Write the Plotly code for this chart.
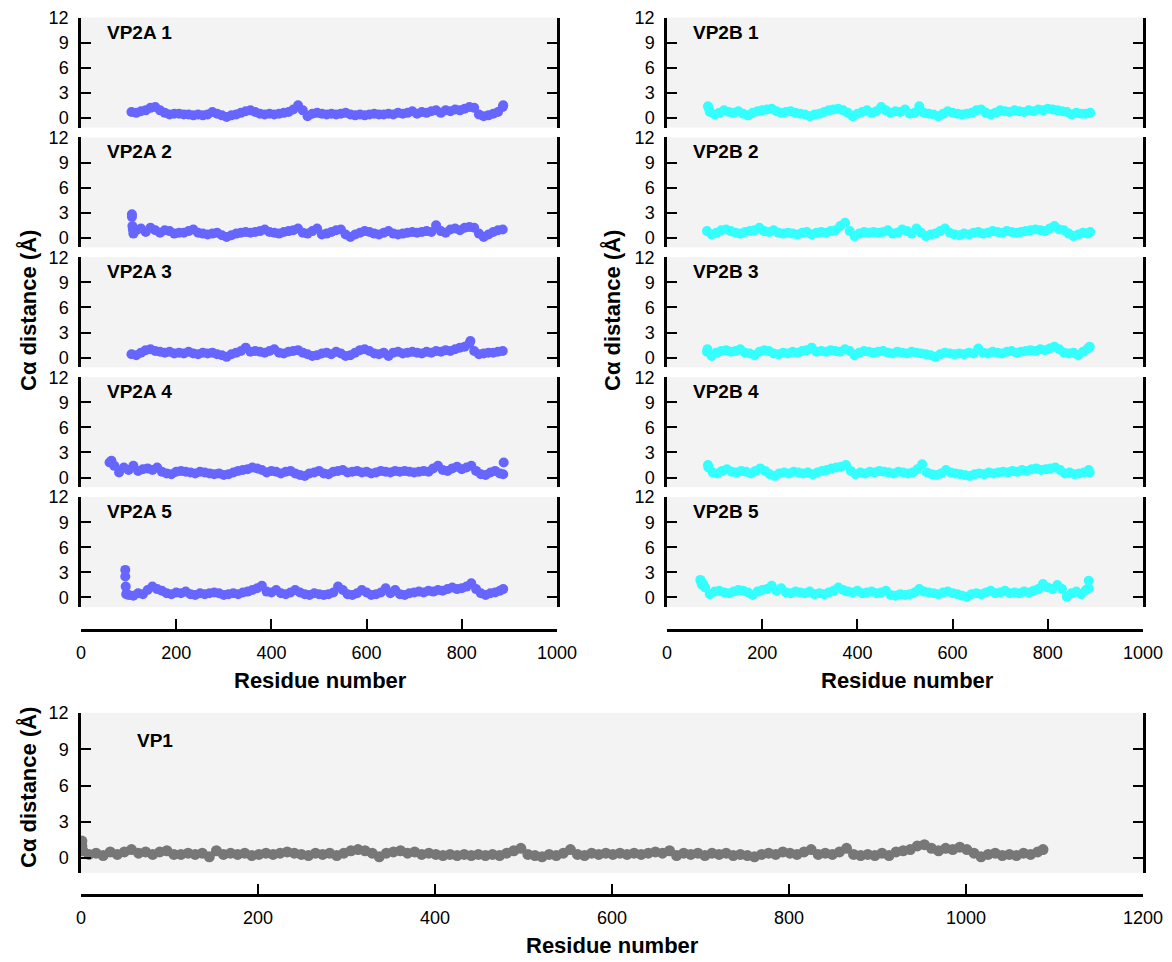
import plotly.graph_objects as go

# ---------------- data ----------------
STEP = 10
# VP2A chains: first residue, values every 10 residues, extra isolated points
vp2a1_start = 106
vp2a1 = [0.7, 0.6, 0.8, 0.9, 1.2, 1.3, 0.9, 0.6, 0.4, 0.5, 0.5, 0.4, 0.4, 0.3, 0.4, 0.3, 0.4, 0.7, 0.5, 0.3,
         0.1, 0.3, 0.4, 0.6, 0.8, 0.9, 0.7, 0.5, 0.4, 0.5, 0.4, 0.5, 0.6, 0.7, 1.0, 1.5, 0.9, 0.2, 0.5, 0.6,
         0.5, 0.4, 0.5, 0.4, 0.5, 0.6, 0.4, 0.3, 0.4, 0.3, 0.4, 0.5, 0.4, 0.4, 0.5, 0.4, 0.6, 0.5, 0.6, 0.8,
         0.5, 0.7, 0.6, 0.8, 0.9, 0.6, 0.9, 0.8, 1.0, 0.9, 1.1, 1.3, 1.2, 0.4, 0.2, 0.3, 0.5, 0.7, 1.3]
vp2a1_extra_x = [887]
vp2a1_extra_y = [1.5]

vp2a2_start = 116
vp2a2 = [0.9, 1.1, 0.7, 1.2, 0.9, 0.6, 0.9, 0.8, 0.5, 0.6, 0.6, 0.8, 1.0, 0.6, 0.5, 0.4, 0.5, 0.6, 0.3, 0.1,
         0.3, 0.5, 0.6, 0.7, 0.6, 0.7, 0.8, 1.0, 0.7, 0.6, 0.5, 0.7, 0.8, 0.9, 1.1, 0.6, 0.5, 0.8, 1.1, 0.4,
         0.5, 0.7, 0.9, 1.0, 0.4, 0.1, 0.4, 0.6, 0.8, 0.7, 0.5, 0.4, 0.6, 0.8, 0.5, 0.4, 0.5, 0.6, 0.7, 0.6,
         0.7, 0.8, 0.7, 1.5, 0.8, 0.6, 1.0, 1.1, 0.9, 1.2, 1.3, 1.2, 0.5, 0.1, 0.4, 0.7, 0.9, 1.0]
vp2a2_extra_x = [107, 107, 108, 109, 110]
vp2a2_extra_y = [2.8, 2.5, 1.4, 1.0, 0.5]

vp2a3_start = 106
vp2a3 = [0.4, 0.3, 0.6, 0.9, 1.0, 0.8, 0.7, 0.6, 0.7, 0.5, 0.6, 0.5, 0.7, 0.5, 0.4, 0.6, 0.5, 0.6, 0.4, 0.3,
         0.1, 0.4, 0.6, 0.8, 1.2, 0.7, 0.8, 0.7, 0.6, 0.8, 1.0, 0.6, 0.5, 0.7, 0.8, 0.9, 0.6, 0.4, 0.2, 0.3,
         0.5, 0.6, 0.4, 0.7, 0.5, 0.2, 0.3, 0.6, 0.9, 1.0, 0.8, 0.5, 0.4, 0.6, 0.2, 0.6, 0.7, 0.5, 0.6, 0.7,
         0.6, 0.5, 0.7, 0.6, 0.8, 0.7, 0.9, 0.8, 1.0, 1.2, 1.3, 1.7, 0.8, 0.4, 0.5, 0.6, 0.6, 0.7, 0.8]
vp2a3_extra_x = [818]
vp2a3_extra_y = [2.0]

vp2a4_start = 60
vp2a4 = [1.8, 1.4, 0.6, 1.2, 0.9, 1.4, 0.8, 1.0, 1.1, 0.9, 1.2, 0.7, 0.5, 0.4, 0.7, 0.8, 0.7, 0.6, 0.5, 0.7,
         0.6, 0.5, 0.4, 0.5, 0.3, 0.4, 0.6, 0.8, 0.9, 1.0, 1.2, 1.1, 0.9, 0.6, 0.8, 0.7, 0.5, 0.7, 0.8, 0.5,
         0.3, 0.2, 0.5, 0.6, 0.8, 0.5, 0.4, 0.7, 0.8, 0.9, 0.6, 0.7, 0.8, 0.6, 0.7, 0.5, 0.6, 0.8, 0.7, 0.6,
         0.8, 0.7, 0.8, 0.7, 0.6, 0.7, 0.8, 0.7, 1.1, 1.4, 0.9, 0.8, 1.1, 1.3, 1.0, 1.2, 1.4, 0.8, 0.4, 0.3,
         0.6, 0.8, 0.5]
vp2a4_extra_x = [64, 888, 887]
vp2a4_extra_y = [2.0, 1.8, 0.4]

vp2a5_start = 100
vp2a5 = [0.3, 0.2, 0.5, 0.4, 0.9, 1.3, 1.0, 0.8, 0.5, 0.4, 0.6, 0.5, 0.7, 0.4, 0.3, 0.5, 0.4, 0.5, 0.6, 0.5,
         0.3, 0.4, 0.5, 0.4, 0.6, 0.7, 0.9, 1.1, 1.4, 0.7, 0.6, 0.9, 0.5, 0.4, 0.6, 0.9, 0.6, 0.4, 0.3, 0.5,
         0.4, 0.3, 0.4, 0.6, 1.3, 0.9, 0.4, 0.3, 0.5, 0.9, 0.6, 0.3, 0.4, 0.6, 1.1, 0.5, 0.9, 0.4, 0.3, 0.5,
         0.6, 0.7, 0.6, 0.8, 0.7, 0.9, 0.8, 1.0, 1.2, 1.0, 1.1, 1.3, 1.7, 1.0, 0.5, 0.3, 0.5, 0.6, 0.8]
vp2a5_extra_x = [93, 93, 94, 95, 887]
vp2a5_extra_y = [3.3, 2.5, 1.3, 0.4, 1.0]

# VP2B chains
vp2b1_start = 90
vp2b1 = [0.7, 0.4, 0.6, 0.9, 0.7, 0.6, 0.8, 0.5, 0.3, 0.6, 0.8, 0.9, 1.0, 1.1, 0.8, 0.6, 0.7, 0.8, 0.6, 0.5,
         0.4, 0.2, 0.4, 0.5, 0.7, 0.9, 1.0, 1.1, 0.9, 0.6, 0.2, 0.5, 0.7, 0.9, 0.6, 0.8, 1.3, 0.9, 0.6, 0.8,
         0.7, 1.0, 0.5, 0.6, 1.4, 0.6, 0.5, 0.4, 0.2, 0.5, 0.8, 0.6, 0.5, 0.4, 0.5, 0.6, 0.9, 1.0, 0.6, 0.4,
         0.6, 0.9, 0.8, 0.7, 0.9, 0.8, 0.7, 0.9, 0.8, 1.0, 0.9, 1.1, 1.0, 0.9, 0.8, 0.7, 0.4, 0.6, 0.5, 0.5]
vp2b1_extra_x = [86, 88, 889]
vp2b1_extra_y = [1.4, 1.1, 0.6]

vp2b2_start = 84
vp2b2 = [0.8, 0.4, 0.6, 0.9, 1.0, 0.8, 0.6, 0.5, 0.7, 0.8, 0.9, 1.2, 0.8, 0.7, 0.9, 0.6, 0.5, 0.6, 0.5, 0.4,
         0.6, 0.7, 0.4, 0.6, 0.7, 0.6, 0.8, 0.9, 1.4, 1.8, 0.8, 0.2, 0.5, 0.7, 0.6, 0.7, 0.6, 0.7, 0.9, 0.5,
         0.6, 1.0, 0.8, 0.5, 1.1, 0.6, 0.2, 0.4, 0.5, 0.8, 1.1, 0.6, 0.4, 0.3, 0.5, 0.4, 0.6, 0.7, 0.5, 0.6,
         0.8, 0.7, 0.6, 0.8, 0.7, 0.6, 0.7, 0.8, 0.9, 1.0, 0.9, 0.8, 1.1, 1.4, 1.0, 0.9, 0.5, 0.2, 0.4, 0.6,
         0.5]
vp2b2_extra_x = [889]
vp2b2_extra_y = [0.7]

vp2b3_start = 84
vp2b3 = [0.7, 0.2, 0.6, 0.8, 0.9, 0.7, 0.8, 1.0, 0.6, 0.5, 0.3, 0.7, 0.9, 0.8, 0.5, 0.4, 0.6, 0.5, 0.7, 0.6,
         0.8, 0.9, 1.2, 0.7, 0.8, 0.7, 0.9, 0.8, 0.7, 1.0, 0.8, 0.3, 0.6, 0.8, 0.7, 0.6, 0.7, 0.8, 0.6, 0.5,
         0.7, 0.6, 0.5, 0.7, 0.6, 0.5, 0.4, 0.3, 0.1, 0.4, 0.6, 0.5, 0.4, 0.5, 0.4, 0.6, 0.5, 1.1, 0.6, 0.5,
         0.7, 0.6, 0.5, 0.7, 0.8, 0.6, 0.7, 0.8, 0.9, 0.8, 1.0, 0.9, 1.1, 1.3, 1.0, 0.6, 0.5, 0.6, 0.3, 0.7,
         1.1]
vp2b3_extra_x = [85, 888]
vp2b3_extra_y = [1.0, 1.3]

vp2b4_start = 86
vp2b4 = [1.5, 0.6, 0.5, 0.8, 1.0, 0.7, 0.6, 0.8, 0.7, 0.5, 0.8, 1.1, 0.8, 0.4, 0.2, 0.5, 0.6, 0.5, 0.7, 0.6,
         0.5, 0.6, 0.4, 0.6, 0.8, 0.9, 1.1, 1.2, 1.3, 1.5, 0.8, 0.4, 0.6, 0.5, 0.7, 0.6, 0.8, 0.7, 0.6, 0.5,
         0.7, 0.6, 0.5, 0.6, 1.0, 1.6, 0.6, 0.4, 0.3, 0.5, 0.9, 0.6, 0.5, 0.4, 0.3, 0.2, 0.4, 0.5, 0.4, 0.6,
         0.5, 0.6, 0.7, 0.6, 0.8, 0.7, 0.9, 0.8, 1.0, 1.1, 0.9, 1.0, 1.1, 1.2, 0.9, 0.5, 0.6, 0.4, 0.5, 0.6,
         0.9]
vp2b4_extra_x = [87, 888]
vp2b4_extra_y = [1.2, 0.6]

vp2b5_start = 70
vp2b5 = [2.1, 1.2, 0.4, 0.7, 0.8, 0.6, 0.5, 0.7, 0.9, 0.8, 0.6, 0.3, 0.7, 0.9, 1.0, 1.4, 0.8, 1.1, 0.6, 0.5,
         0.7, 0.6, 0.5, 0.7, 0.4, 0.5, 0.4, 0.6, 0.8, 1.2, 0.9, 0.7, 0.6, 0.8, 0.5, 0.6, 0.7, 0.5, 0.6, 0.8,
         0.3, 0.2, 0.4, 0.3, 0.4, 0.6, 1.0, 0.7, 0.6, 0.5, 0.4, 0.6, 0.7, 0.5, 0.4, 0.2, 0.1, 0.4, 0.5, 0.4,
         0.6, 0.8, 0.5, 0.6, 0.8, 0.5, 0.6, 0.5, 0.7, 0.6, 0.8, 1.0, 1.6, 1.2, 1.0, 1.5, 1.0, 0.1, 0.5, 0.7,
         0.4, 0.9]
vp2b5_extra_x = [72, 74, 76, 886, 886]
vp2b5_extra_y = [1.8, 1.5, 1.6, 2.0, 1.1]

# VP1: values every 8 residues from residue 1
VP1_STEP = 8
vp1_start = 1
vp1 = [1.0, 0.3, 0.4, 0.2, 0.5, 0.3, 0.5, 0.7, 0.4, 0.5, 0.3, 0.5, 0.6, 0.3, 0.3, 0.4, 0.3, 0.4, 0.1, 0.6,
       0.3, 0.4, 0.3, 0.4, 0.2, 0.3, 0.4, 0.3, 0.4, 0.5, 0.4, 0.3, 0.2, 0.4, 0.3, 0.4, 0.2, 0.4, 0.6, 0.7,
       0.6, 0.4, 0.1, 0.4, 0.5, 0.6, 0.4, 0.5, 0.3, 0.4, 0.3, 0.2, 0.3, 0.2, 0.3, 0.2, 0.3, 0.2, 0.3, 0.2,
       0.4, 0.6, 0.8, 0.3, 0.2, 0.1, 0.3, 0.2, 0.4, 0.7, 0.3, 0.2, 0.4, 0.3, 0.4, 0.3, 0.4, 0.3, 0.4, 0.3,
       0.4, 0.5, 0.4, 0.6, 0.2, 0.4, 0.3, 0.4, 0.2, 0.4, 0.3, 0.4, 0.2, 0.3, 0.2, 0.1, 0.3, 0.4, 0.3, 0.5,
       0.4, 0.3, 0.5, 0.7, 0.3, 0.4, 0.3, 0.5, 0.8, 0.3, 0.2, 0.3, 0.2, 0.4, 0.2, 0.5, 0.6, 0.7, 1.0, 1.1,
       0.8, 0.6, 0.8, 0.7, 0.9, 0.7, 0.4, 0.1, 0.3, 0.4, 0.2, 0.3, 0.2, 0.4, 0.3, 0.5]
vp1_extra_x = [1, 2, 1087]
vp1_extra_y = [1.4, 0.6, 0.7]

# ---------------- figure ----------------
W, H = 1172, 962
BLUE, CYAN, GREY = "#6666ff", "#33ffff", "#777777"
BG = "#f3f3f3"
FONT = "Liberation Sans, Arial, Helvetica, sans-serif"

def px_x(p):
    return p / W

def px_y(p):
    return 1 - p / H

panels = [
    ("VP2A 1", vp2a1_start, vp2a1, vp2a1_extra_x, vp2a1_extra_y, BLUE, 0, 0),
    ("VP2A 2", vp2a2_start, vp2a2, vp2a2_extra_x, vp2a2_extra_y, BLUE, 0, 1),
    ("VP2A 3", vp2a3_start, vp2a3, vp2a3_extra_x, vp2a3_extra_y, BLUE, 0, 2),
    ("VP2A 4", vp2a4_start, vp2a4, vp2a4_extra_x, vp2a4_extra_y, BLUE, 0, 3),
    ("VP2A 5", vp2a5_start, vp2a5, vp2a5_extra_x, vp2a5_extra_y, BLUE, 0, 4),
    ("VP2B 1", vp2b1_start, vp2b1, vp2b1_extra_x, vp2b1_extra_y, CYAN, 1, 0),
    ("VP2B 2", vp2b2_start, vp2b2, vp2b2_extra_x, vp2b2_extra_y, CYAN, 1, 1),
    ("VP2B 3", vp2b3_start, vp2b3, vp2b3_extra_x, vp2b3_extra_y, CYAN, 1, 2),
    ("VP2B 4", vp2b4_start, vp2b4, vp2b4_extra_x, vp2b4_extra_y, CYAN, 1, 3),
    ("VP2B 5", vp2b5_start, vp2b5, vp2b5_extra_x, vp2b5_extra_y, CYAN, 1, 4),
]

col_px = [(81, 557), (667, 1143)]
fig = go.Figure()
layout = dict(
    width=W, height=H, margin=dict(l=0, r=0, t=0, b=0, pad=0), autosize=False,
    paper_bgcolor="white", plot_bgcolor=BG, showlegend=False,
    font=dict(family=FONT, size=18, color="black"),
)
annotations = []

tickfont = dict(family=FONT, size=18, color="black")

def yaxis_style(rng, dom, anchor):
    return dict(domain=dom, range=rng, anchor=anchor, tickvals=[0, 3, 6, 9, 12],
                ticks="inside", ticklen=10, tickwidth=1.5, tickcolor="black",
                showline=True, linewidth=2.5, linecolor="black", mirror="ticks",
                showgrid=False, zeroline=False, tickfont=tickfont, ticklabelstandoff=6,
                automargin=False, fixedrange=True)

for i, (name, start, vals, ex, ey, color, col, row) in enumerate(panels):
    n = i + 1
    top = 17.5 + 119.9 * row
    bot = top + 110
    xdom = [px_x(col_px[col][0]), px_x(col_px[col][1])]
    ydom = [px_y(bot), px_y(top)]
    xs = [start + STEP * k for k in range(len(vals))] + ex
    ys = list(vals) + ey
    fig.add_trace(go.Scatter(x=xs, y=ys, mode="markers", xaxis=f"x{n}", yaxis=f"y{n}",
                             marker=dict(color=color, size=10, line=dict(width=0))))
    xa = dict(domain=xdom, range=[0, 1000], showgrid=False, zeroline=False,
              automargin=False, fixedrange=True)
    if row == 4:
        xa.update(anchor="free", position=px_y(630), tickvals=[0, 200, 400, 600, 800, 1000],
                  ticks="inside", ticklen=10, tickwidth=1.5, tickcolor="black",
                  showline=True, linewidth=2.5, linecolor="black", tickfont=tickfont,
                  ticklabelstandoff=6)
    else:
        xa.update(anchor=f"y{n}", visible=False)
    layout[f"xaxis{n}"] = xa
    layout[f"yaxis{n}"] = yaxis_style([-1.15, 12], ydom, f"x{n}")
    annotations.append(dict(text=f"<b>{name}</b>", xref="paper", yref="paper",
                            x=px_x(col_px[col][0] + 24), y=px_y(top + 14.5),
                            xanchor="left", yanchor="middle", showarrow=False,
                            font=dict(family=FONT, size=19, color="black")))

# VP1 panel
n = 11
xs = [vp1_start + VP1_STEP * k for k in range(len(vp1))] + vp1_extra_x
ys = list(vp1) + vp1_extra_y
fig.add_trace(go.Scatter(x=xs, y=ys, mode="markers", xaxis="x11", yaxis="y11",
                         marker=dict(color=GREY, size=11, line=dict(width=0))))
layout["xaxis11"] = dict(domain=[px_x(81), px_x(1143)], range=[0, 1200], anchor="free",
                         position=px_y(895), tickvals=[0, 200, 400, 600, 800, 1000, 1200],
                         ticks="inside", ticklen=10, tickwidth=1.5, tickcolor="black",
                         showline=True, linewidth=2.5, linecolor="black", tickfont=tickfont,
                         showgrid=False, zeroline=False, ticklabelstandoff=6,
                         automargin=False, fixedrange=True)
layout["yaxis11"] = yaxis_style([-1.24, 12], [px_y(873), px_y(713)], "x11")
annotations.append(dict(text="<b>VP1</b>", xref="paper", yref="paper", x=px_x(135), y=px_y(740),
                        xanchor="left", yanchor="middle", showarrow=False,
                        font=dict(family=FONT, size=19, color="black")))

# axis titles
title_font = dict(family=FONT, size=22, color="black")
for (xc, yc) in [(320, 680), (907, 680), (612, 945)]:
    annotations.append(dict(text="<b>Residue number</b>", xref="paper", yref="paper",
                            x=px_x(xc), y=px_y(yc), xanchor="center", yanchor="middle",
                            showarrow=False, font=title_font))
for (xc, yc) in [(28, 311), (612, 311), (28, 788)]:
    annotations.append(dict(text="<b>Cα distance (Å)</b>", xref="paper", yref="paper",
                            x=px_x(xc), y=px_y(yc), xanchor="center", yanchor="middle",
                            textangle=-90, showarrow=False, font=title_font))

layout["annotations"] = annotations
fig.update_layout(**layout)
fig.write_html("out.html", config={"displayModeBar": False},
               post_script="document.body.style.margin='0px';document.body.style.overflow='hidden';")
